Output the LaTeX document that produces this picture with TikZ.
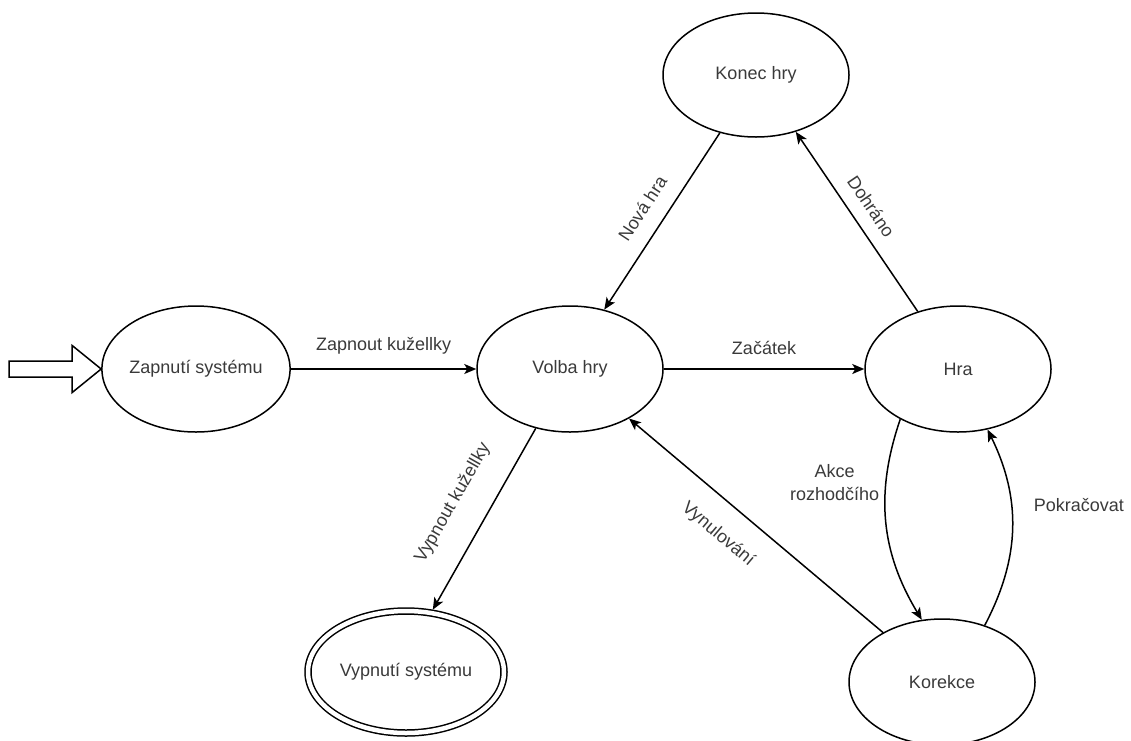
\documentclass[tikz,border=0pt]{standalone}
\usepackage{fontspec}
\setmainfont{Liberation Sans}
\usepackage{tikz}
\usetikzlibrary{arrows.meta, shapes.geometric}
\definecolor{txtgray}{HTML}{3A3A3A}

\begin{document}
\begin{tikzpicture}[x=1pt, y=1pt, >={Stealth[length=12pt, width=10pt, inset=3pt]},
    state/.style={ellipse, draw, line width=1.5pt, minimum width=186pt, minimum height=126pt, inner sep=0pt, text=txtgray},
    lbl/.style={text=txtgray, inner sep=2pt},
    every node/.append style={font=\fontsize{18}{23}\selectfont}]
    \useasboundingbox (0,0) rectangle (1131,-740);
    \node[state] (zap) at (196,-369) {Zapnutí systému};
    \node[state] (volba) at (570,-369) {Volba hry};
    \node[state] (hra) at (958,-369) {Hra};
    \node[state, minimum height=124pt] (konec) at (756,-75) {Konec hry};
    \node[state] (kor) at (942,-682) {Korekce};
    \node[state, double, double distance=4.5pt, minimum width=196pt, minimum height=122pt] (vyp) at (406,-672) {Vypnutí systému};
    \draw[line width=1.5pt] (zap.west) -- ++(-29,23.5) -- ++(0,-15.5) -- ++(-63,0) -- ++(0,-16) -- ++(63,0) -- ++(0,-15.5) -- cycle;
    \begin{scope}[line width=1.5pt, ->]
        \draw (zap) -- node[lbl, above=12pt] {Zapnout kužellky} (volba);
        \draw (volba) -- node[lbl, above=12pt] {Začátek} (hra);
        \draw (konec.-122) -- node[lbl, sloped, above=14pt] {Nová hra} (volba.60);
        \draw (hra.125) -- node[lbl, pos=0.52, sloped, above=11pt] {Dohráno} (konec.-55);
        \draw[shorten >=3pt] (volba.-120) -- node[lbl, sloped, above=24pt] {Vypnout kužellky} (vyp.67);
        \draw (kor.140) -- node[lbl, pos=0.57, sloped, below=20pt] {Vynulování} (volba.-40);
        \draw (hra.-139) to[bend right=25] node[lbl, pos=0.3, left=4pt, align=center] {Akce\\rozhodčího} (kor.108);
        \draw (kor.53) to[bend right=27] node[lbl, pos=0.62, right=20pt] {Pokračovat} (hra.-64);
    \end{scope}
\end{tikzpicture}
\end{document}
